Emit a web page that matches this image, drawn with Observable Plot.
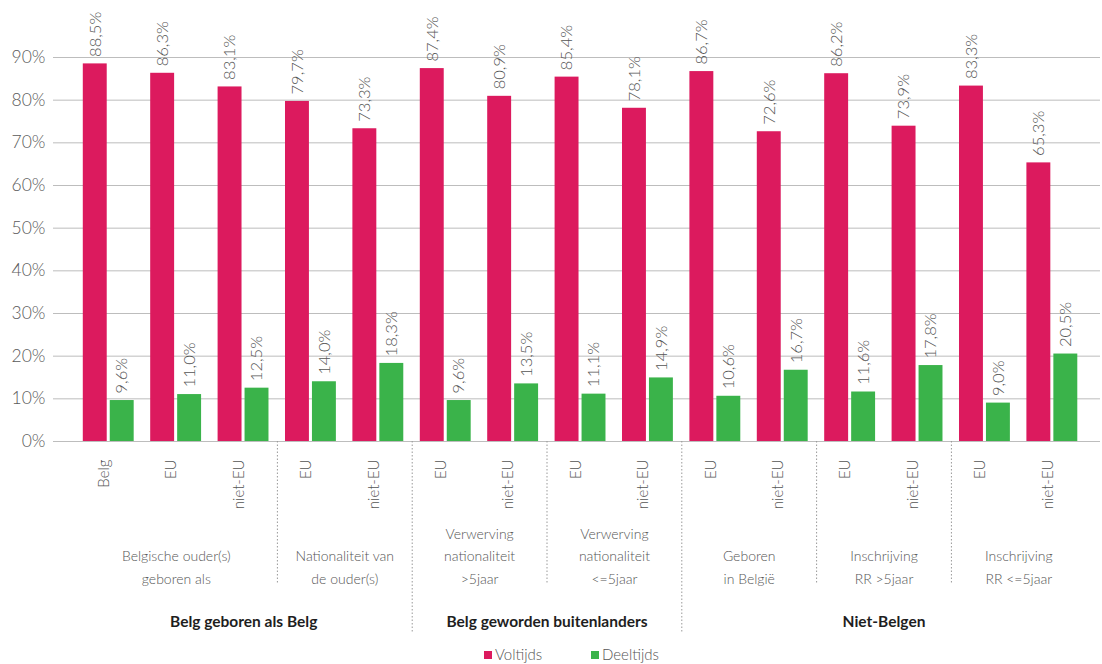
<!DOCTYPE html>
<html>
<head>
<meta charset="utf-8">
<script src="https://cdn.jsdelivr.net/npm/d3@7"></script>
<script src="https://cdn.jsdelivr.net/npm/@observablehq/plot@0.6"></script>
<style>
  body { margin: 0; background: #fff; font-family: Lato, "Noto Sans", sans-serif; }
  #chart svg { display: block; }
  #legend { position: relative; width: 1102px; height: 20px; font-size: 15px; color: #555; font-weight: 300; }
  #legend .item { position: absolute; top: 0; line-height: 20px; white-space: nowrap; }
  #legend .sw { display: inline-block; width: 8px; height: 8px; margin-right: 3px; vertical-align: 1px; }
</style>
</head>
<body>
<div id="chart"></div>
<div id="legend"></div>
<script>
// ---- data ----
const categories = ["Belg", "EU", "niet-EU", "EU", "niet-EU", "EU", "niet-EU", "EU", "niet-EU", "EU", "niet-EU", "EU", "niet-EU", "EU", "niet-EU"];
const voltijds  = [88.5, 86.3, 83.1, 79.7, 73.3, 87.4, 80.9, 85.4, 78.1, 86.7, 72.6, 86.2, 73.9, 83.3, 65.3];
const deeltijds = [9.6, 11.0, 12.5, 14.0, 18.3, 9.6, 13.5, 11.1, 14.9, 10.6, 16.7, 11.6, 17.8, 9.0, 20.5];
const subgroupOf = [0, 0, 0, 1, 1, 2, 2, 3, 3, 4, 4, 5, 5, 6, 6];
const subgroupLabels = [
  "Belgische ouder(s)\ngeboren als",
  "Nationaliteit van\nde ouder(s)",
  "Verwerving\nnationaliteit\n>5jaar",
  "Verwerving\nnationaliteit\n<=5jaar",
  "Geboren\nin België",
  "Inschrijving\nRR >5jaar",
  "Inschrijving\nRR <=5jaar"
];
const groupOfSubgroup = [0, 0, 1, 1, 2, 2, 2];
const groupLabels = ["Belg geboren als Belg", "Belg geworden buitenlanders", "Niet-Belgen"];
const yTicks = [0, 10, 20, 30, 40, 50, 60, 70, 80, 90];
const seriesNames = ["Voltijds", "Deeltijds"];
const colors = ["#DC1A5E", "#3AB34A"];

// ---- derived tables ----
const idx = categories.map((_, i) => i);
const pinkData = idx.map(i => ({i, v: voltijds[i]}));
const greenData = idx.map(i => ({i, v: deeltijds[i]}));
const catData = idx.map(i => ({i, label: categories[i]}));
const subData = subgroupLabels.map((label, s) => {
  const members = idx.filter(i => subgroupOf[i] === s);
  return {label, c: (d3.min(members) + d3.max(members)) / 2};
});
const groupData = groupLabels.map((label, g) => {
  const members = idx.filter(i => groupOfSubgroup[subgroupOf[i]] === g);
  return {label, c: (d3.min(members) + d3.max(members)) / 2};
});
const bounds = idx.slice(1).filter(i => subgroupOf[i] !== subgroupOf[i - 1])
  .map(i => ({x: i - 0.5, long: groupOfSubgroup[subgroupOf[i]] !== groupOfSubgroup[subgroupOf[i - 1]]}));
const fmt = v => v.toFixed(1).replace(".", ",") + "%";

const plot = Plot.plot({
  width: 1102,
  height: 644,
  marginLeft: 53,
  marginRight: 2,
  marginTop: 57,
  marginBottom: 203,
  style: {fontFamily: "Lato, 'Noto Sans', sans-serif", color: "#555", background: "#fff"},
  x: {type: "linear", domain: [-0.822, 14.712], axis: null},
  y: {domain: [0, 90], axis: null},
  marks: [
    Plot.gridY(yTicks, {stroke: "#bdbdbd", strokeOpacity: 1}),
    Plot.axisY(yTicks, {tickSize: 0, tickPadding: 8, tickFormat: d => d + "%", fontSize: 17.5, fontWeight: 300, fill: "#5a5a5a", label: null}),
    Plot.rectY(pinkData, {x1: d => d.i - 0.38, x2: d => d.i - 0.025, y: "v", fill: colors[0]}),
    Plot.rectY(greenData, {x1: d => d.i + 0.02, x2: d => d.i + 0.375, y: "v", fill: colors[1]}),
    Plot.text(pinkData, {x: d => d.i - 0.2025, y: "v", text: d => fmt(d.v), rotate: -90, textAnchor: "start", dy: -7, fontSize: 16.5, fontWeight: 300, fill: "#555"}),
    Plot.text(greenData, {x: d => d.i + 0.1975, y: "v", text: d => fmt(d.v), rotate: -90, textAnchor: "start", dy: -7, fontSize: 16.5, fontWeight: 300, fill: "#555"}),
    Plot.ruleX(bounds, {x: "x", y1: 0, y2: d => d.long ? -45 : -33.5, stroke: "#999", strokeDasharray: "1.5,2"}),
    Plot.text(catData, {x: "i", frameAnchor: "bottom", text: "label", rotate: -90, textAnchor: "end", dy: 18, fontSize: 15, fontWeight: 300, fill: "#555"}),
    Plot.text(subData, {x: "c", frameAnchor: "bottom", text: "label", lineAnchor: "bottom", lineHeight: 1.6, dy: 142, fontSize: 14, fontWeight: 300, fill: "#555"}),
    Plot.text(groupData, {x: "c", frameAnchor: "bottom", text: "label", dy: 185, fontSize: 15.5, fontWeight: "bold", fill: "#1e1e1e"})
  ]
});
document.getElementById("chart").appendChild(plot);

const legend = document.getElementById("legend");
const legendLeft = [484, 591];
seriesNames.forEach((name, k) => {
  const item = document.createElement("span");
  item.className = "item";
  item.style.left = legendLeft[k] + "px";
  const sw = document.createElement("span");
  sw.className = "sw";
  sw.style.background = colors[k];
  item.appendChild(sw);
  item.appendChild(document.createTextNode(name));
  legend.appendChild(item);
});
</script>
</body>
</html>
